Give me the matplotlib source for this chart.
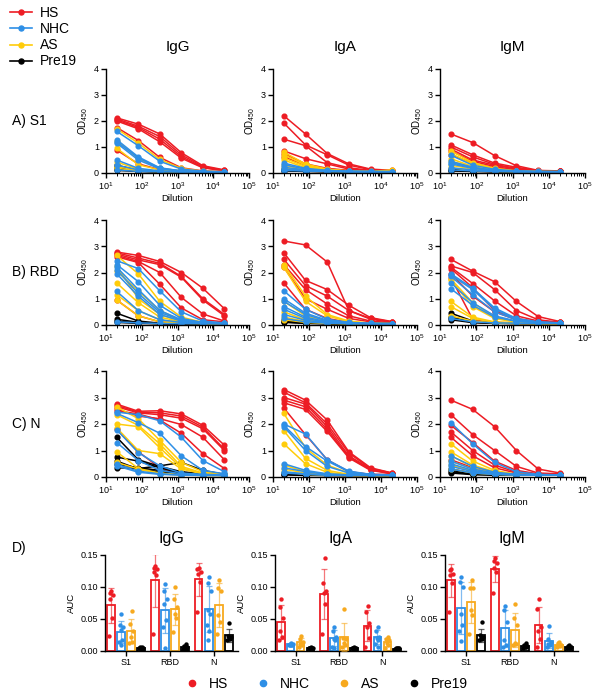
import numpy as np
import matplotlib
matplotlib.use("Agg")
import matplotlib.pyplot as plt
from matplotlib.lines import Line2D
from matplotlib.ticker import LogLocator, NullFormatter, FormatStrFormatter

plt.rcParams['font.family'] = ['Liberation Sans', 'DejaVu Sans']
plt.rcParams['mathtext.fontset'] = 'custom'
plt.rcParams['mathtext.rm'] = 'Liberation Sans'
plt.rcParams['mathtext.it'] = 'Liberation Sans'

# ---------------- data ----------------
dilutions = [20, 80, 320, 1280, 5120, 20480]
groups = ["HS", "NHC", "AS", "Pre19"]
isotypes = ["IgG", "IgA", "IgM"]
antigens = ["S1", "RBD", "N"]
row_labels = ["A) S1", "B) RBD", "C) N"]

# S1 - IgG
s1_igg_hs = [[2.12, 1.88, 1.50, 0.78, 0.28, 0.12], [2.08, 1.80, 1.40, 0.70, 0.25, 0.10],
             [2.04, 1.75, 1.30, 0.63, 0.22, 0.09], [2.00, 1.70, 1.20, 0.57, 0.20, 0.08],
             [1.75, 1.25, 0.60, 0.20, 0.08, 0.05], [0.88, 0.35, 0.13, 0.07, 0.05, 0.04]]
s1_igg_nhc = [[1.60, 1.05, 0.45, 0.15, 0.07, 0.05], [1.28, 0.62, 0.20, 0.08, 0.05, 0.04],
              [1.20, 0.58, 0.18, 0.08, 0.05, 0.04], [1.15, 0.50, 0.16, 0.07, 0.05, 0.04],
              [0.50, 0.18, 0.08, 0.05, 0.04, 0.04], [0.30, 0.12, 0.06, 0.05, 0.04, 0.04],
              [0.12, 0.06, 0.05, 0.04, 0.04, 0.04]]
s1_igg_as = [[1.70, 1.15, 0.52, 0.18, 0.07, 0.05], [1.25, 0.55, 0.18, 0.08, 0.05, 0.04],
             [0.95, 0.32, 0.12, 0.06, 0.05, 0.04], [0.42, 0.15, 0.07, 0.05, 0.04, 0.04],
             [0.25, 0.10, 0.06, 0.05, 0.04, 0.04], [0.18, 0.08, 0.05, 0.04, 0.04, 0.04]]
s1_igg_pre = [[0.30, 0.10, 0.06, 0.05, 0.04, 0.04], [0.22, 0.08, 0.05, 0.04, 0.04, 0.04],
              [0.15, 0.07, 0.05, 0.04, 0.04, 0.04], [0.10, 0.06, 0.04, 0.04, 0.04, 0.04]]

# S1 - IgA
s1_iga_hs = [[2.20, 1.50, 0.75, 0.35, 0.15, 0.10], [1.92, 1.08, 0.70, 0.30, 0.13, 0.09],
             [1.30, 1.05, 0.40, 0.20, 0.10, 0.08], [0.85, 0.55, 0.35, 0.15, 0.09, 0.07],
             [0.75, 0.35, 0.18, 0.10, 0.07, 0.06], [0.62, 0.30, 0.15, 0.09, 0.06, 0.06]]
s1_iga_nhc = [[0.38, 0.18, 0.10, 0.07, 0.06, 0.05], [0.32, 0.15, 0.09, 0.06, 0.05, 0.05],
              [0.22, 0.12, 0.08, 0.06, 0.05, 0.05], [0.15, 0.10, 0.07, 0.05, 0.05, 0.05],
              [0.12, 0.09, 0.06, 0.05, 0.05, 0.05], [0.10, 0.08, 0.06, 0.05, 0.05, 0.05]]
s1_iga_as = [[0.80, 0.35, 0.15, 0.08, 0.06, 0.12], [0.70, 0.30, 0.13, 0.07, 0.05, 0.05],
             [0.58, 0.25, 0.12, 0.07, 0.05, 0.05], [0.50, 0.20, 0.10, 0.06, 0.05, 0.05],
             [0.30, 0.12, 0.07, 0.05, 0.05, 0.05], [0.20, 0.10, 0.06, 0.05, 0.05, 0.05]]
s1_iga_pre = [[0.15, 0.09, 0.06, 0.05, 0.05, 0.05], [0.12, 0.08, 0.06, 0.05, 0.05, 0.05],
              [0.10, 0.07, 0.05, 0.05, 0.05, 0.05], [0.08, 0.06, 0.05, 0.05, 0.05, 0.05]]

# S1 - IgM
s1_igm_hs = [[1.50, 1.17, 0.67, 0.28, 0.10, 0.08], [1.08, 0.70, 0.38, 0.22, 0.09, 0.07],
             [1.00, 0.62, 0.33, 0.18, 0.08, 0.07], [0.92, 0.50, 0.30, 0.15, 0.08, 0.06],
             [0.85, 0.45, 0.25, 0.12, 0.07, 0.06], [0.70, 0.38, 0.20, 0.10, 0.06, 0.06]]
s1_igm_nhc = [[0.68, 0.30, 0.14, 0.08, 0.06, 0.05], [0.45, 0.22, 0.10, 0.07, 0.05, 0.05],
              [0.40, 0.20, 0.10, 0.06, 0.05, 0.05], [0.35, 0.18, 0.09, 0.06, 0.05, 0.05],
              [0.20, 0.12, 0.07, 0.05, 0.05, 0.05], [0.12, 0.08, 0.06, 0.05, 0.05, 0.05]]
s1_igm_as = [[0.85, 0.40, 0.18, 0.08, 0.06, 0.05], [0.75, 0.35, 0.15, 0.07, 0.05, 0.05],
             [0.55, 0.25, 0.12, 0.07, 0.05, 0.05], [0.45, 0.22, 0.10, 0.06, 0.05, 0.05],
             [0.30, 0.15, 0.08, 0.05, 0.05, 0.05], [0.20, 0.10, 0.06, 0.05, 0.05, 0.05]]
s1_igm_pre = [[0.15, 0.09, 0.06, 0.05, 0.05, 0.05], [0.12, 0.08, 0.06, 0.05, 0.05, 0.05],
              [0.10, 0.07, 0.05, 0.05, 0.05, 0.05], [0.08, 0.06, 0.05, 0.05, 0.05, 0.05]]

# RBD - IgG
rbd_igg_hs = [[2.78, 2.65, 2.42, 2.00, 1.40, 0.62], [2.75, 2.55, 2.35, 1.85, 1.00, 0.40],
              [2.70, 2.48, 2.30, 1.82, 0.95, 0.35], [2.65, 2.42, 2.00, 1.05, 0.42, 0.15],
              [2.60, 2.38, 1.55, 0.65, 0.20, 0.12], [0.95, 0.35, 0.12, 0.08, 0.06, 0.05]]
rbd_igg_nhc = [[2.45, 2.15, 1.30, 0.50, 0.15, 0.08], [2.30, 1.65, 0.75, 0.25, 0.10, 0.06],
               [2.20, 1.35, 0.55, 0.20, 0.08, 0.06], [2.10, 1.20, 0.48, 0.18, 0.08, 0.05],
               [1.95, 1.10, 0.40, 0.15, 0.07, 0.05], [1.28, 0.55, 0.20, 0.10, 0.06, 0.05],
               [0.12, 0.08, 0.06, 0.05, 0.05, 0.05]]
rbd_igg_as = [[2.65, 1.95, 0.90, 0.30, 0.10, 0.06], [2.25, 1.00, 0.40, 0.14, 0.07, 0.05],
              [2.05, 1.30, 0.55, 0.18, 0.08, 0.05], [1.60, 0.85, 0.30, 0.12, 0.06, 0.05],
              [1.15, 0.55, 0.20, 0.10, 0.06, 0.05], [0.95, 0.35, 0.12, 0.07, 0.05, 0.05]]
rbd_igg_pre = [[0.45, 0.15, 0.07, 0.05, 0.05, 0.05], [0.22, 0.10, 0.06, 0.05, 0.05, 0.05],
               [0.15, 0.08, 0.05, 0.05, 0.05, 0.05], [0.10, 0.06, 0.05, 0.05, 0.05, 0.05]]

# RBD - IgA
rbd_iga_hs = [[3.20, 3.05, 2.40, 0.55, 0.25, 0.12], [2.75, 1.70, 1.35, 0.75, 0.28, 0.13],
              [2.50, 1.50, 1.10, 0.55, 0.22, 0.10], [2.30, 1.35, 0.80, 0.35, 0.15, 0.08],
              [2.20, 1.00, 0.60, 0.25, 0.12, 0.07], [1.60, 0.60, 0.25, 0.10, 0.06, 0.05]]
rbd_iga_nhc = [[1.30, 0.60, 0.22, 0.10, 0.06, 0.05], [1.00, 0.45, 0.18, 0.08, 0.06, 0.05],
               [0.90, 0.40, 0.15, 0.08, 0.05, 0.05], [0.70, 0.30, 0.12, 0.07, 0.05, 0.05],
               [0.60, 0.25, 0.10, 0.06, 0.05, 0.05], [0.40, 0.18, 0.08, 0.06, 0.05, 0.05],
               [0.25, 0.12, 0.07, 0.05, 0.05, 0.05]]
rbd_iga_as = [[2.30, 1.10, 0.40, 0.15, 0.07, 0.05], [2.20, 0.90, 0.35, 0.12, 0.06, 0.05],
              [0.90, 0.35, 0.14, 0.07, 0.05, 0.05], [0.50, 0.20, 0.10, 0.06, 0.05, 0.05],
              [0.30, 0.14, 0.08, 0.05, 0.05, 0.05], [0.20, 0.10, 0.06, 0.05, 0.05, 0.05]]
rbd_iga_pre = [[0.20, 0.10, 0.06, 0.05, 0.05, 0.05], [0.15, 0.08, 0.06, 0.05, 0.05, 0.05],
               [0.12, 0.07, 0.05, 0.05, 0.05, 0.05], [0.10, 0.06, 0.05, 0.05, 0.05, 0.05]]

# RBD - IgM
rbd_igm_hs = [[2.50, 2.05, 1.65, 0.90, 0.32, 0.13], [2.25, 2.00, 1.35, 0.55, 0.20, 0.10],
              [2.20, 1.58, 0.92, 0.35, 0.15, 0.10], [2.15, 1.42, 0.55, 0.25, 0.12, 0.08],
              [1.95, 1.10, 0.50, 0.20, 0.10, 0.08], [1.80, 0.22, 0.10, 0.08, 0.07, 0.06]]
rbd_igm_nhc = [[1.95, 1.40, 0.65, 0.25, 0.12, 0.08], [1.90, 1.35, 0.60, 0.22, 0.11, 0.08],
               [1.85, 1.15, 0.50, 0.20, 0.10, 0.07], [1.60, 0.85, 0.35, 0.15, 0.09, 0.07],
               [1.38, 0.75, 0.30, 0.14, 0.08, 0.07], [0.25, 0.12, 0.08, 0.07, 0.06, 0.06]]
rbd_igm_as = [[1.75, 0.85, 0.28, 0.12, 0.08, 0.07], [1.70, 0.70, 0.25, 0.10, 0.07, 0.06],
              [0.90, 0.30, 0.12, 0.08, 0.06, 0.06], [0.70, 0.25, 0.10, 0.07, 0.06, 0.06],
              [0.35, 0.15, 0.08, 0.06, 0.06, 0.06]]
rbd_igm_pre = [[0.45, 0.15, 0.08, 0.06, 0.06, 0.06], [0.30, 0.12, 0.07, 0.06, 0.06, 0.06],
               [0.25, 0.10, 0.07, 0.06, 0.06, 0.06], [0.20, 0.09, 0.06, 0.06, 0.06, 0.06]]

# N - IgG
n_igg_hs = [[2.75, 2.48, 2.50, 2.38, 1.95, 1.20], [2.70, 2.45, 2.42, 2.30, 1.88, 1.05],
            [2.65, 2.42, 2.35, 2.22, 1.82, 1.00], [2.55, 2.30, 2.20, 1.98, 1.50, 0.65],
            [2.50, 2.38, 2.15, 1.65, 0.88, 0.32], [1.80, 0.95, 0.35, 0.12, 0.08, 0.06]]
n_igg_nhc = [[2.45, 2.35, 2.12, 1.50, 0.62, 0.20], [2.40, 2.05, 1.65, 0.80, 0.25, 0.12],
             [1.78, 0.92, 0.42, 0.15, 0.10, 0.08], [1.30, 0.62, 0.25, 0.12, 0.08, 0.06],
             [0.48, 0.22, 0.12, 0.08, 0.06, 0.06], [0.42, 0.18, 0.10, 0.07, 0.06, 0.06]]
n_igg_as = [[2.65, 2.20, 1.38, 0.55, 0.20, 0.10], [2.35, 1.95, 1.25, 0.40, 0.15, 0.08],
            [2.00, 1.90, 1.10, 0.35, 0.12, 0.08], [1.85, 1.00, 0.88, 0.30, 0.12, 0.07],
            [0.95, 0.32, 0.15, 0.08, 0.06, 0.06], [0.55, 0.30, 0.12, 0.08, 0.06, 0.06]]
n_igg_pre = [[1.50, 0.65, 0.40, 0.20, 0.12, 0.08], [0.75, 0.60, 0.35, 0.15, 0.10, 0.08],
             [0.35, 0.32, 0.42, 0.55, 0.25, 0.10], [0.60, 0.30, 0.20, 0.12, 0.08, 0.06],
             [0.48, 0.35, 0.25, 0.15, 0.10, 0.06]]

# N - IgA
n_iga_hs = [[3.30, 2.90, 2.15, 0.95, 0.35, 0.15], [3.20, 2.80, 2.00, 0.90, 0.32, 0.15],
            [3.00, 2.75, 1.90, 0.80, 0.30, 0.13], [2.90, 2.65, 1.80, 0.75, 0.28, 0.12],
            [2.80, 2.55, 1.72, 0.72, 0.25, 0.12], [2.60, 1.60, 0.65, 0.20, 0.10, 0.10]]
n_iga_nhc = [[2.00, 1.62, 0.65, 0.22, 0.10, 0.08], [1.95, 1.15, 0.60, 0.20, 0.09, 0.08],
             [1.90, 1.00, 0.40, 0.15, 0.08, 0.07], [0.50, 0.25, 0.12, 0.08, 0.07, 0.07],
             [0.35, 0.20, 0.10, 0.08, 0.07, 0.07], [0.20, 0.12, 0.08, 0.07, 0.06, 0.06],
             [0.15, 0.10, 0.07, 0.06, 0.06, 0.06]]
n_iga_as = [[2.40, 1.10, 0.45, 0.15, 0.08, 0.07], [1.75, 0.70, 0.25, 0.10, 0.07, 0.07],
            [1.25, 0.50, 0.18, 0.08, 0.07, 0.06], [0.45, 0.20, 0.10, 0.07, 0.06, 0.06],
            [0.30, 0.15, 0.08, 0.06, 0.06, 0.06], [0.20, 0.10, 0.07, 0.06, 0.06, 0.06]]
n_iga_pre = [[0.15, 0.09, 0.07, 0.06, 0.06, 0.06], [0.12, 0.08, 0.06, 0.06, 0.06, 0.06],
             [0.10, 0.07, 0.06, 0.06, 0.06, 0.06], [0.08, 0.06, 0.06, 0.06, 0.06, 0.06]]

# N - IgM
n_igm_hs = [[2.90, 2.55, 1.90, 1.00, 0.30, 0.15], [2.35, 1.60, 1.00, 0.40, 0.15, 0.12],
            [1.95, 1.30, 0.60, 0.25, 0.12, 0.10], [1.70, 1.00, 0.45, 0.18, 0.10, 0.10],
            [1.50, 0.80, 0.35, 0.15, 0.10, 0.10], [0.65, 0.35, 0.18, 0.10, 0.08, 0.08]]
n_igm_nhc = [[2.05, 1.25, 0.55, 0.20, 0.10, 0.08], [0.80, 0.40, 0.18, 0.10, 0.08, 0.08],
             [0.60, 0.30, 0.15, 0.10, 0.08, 0.07], [0.50, 0.25, 0.12, 0.09, 0.08, 0.07],
             [0.40, 0.20, 0.10, 0.08, 0.07, 0.07], [0.30, 0.15, 0.10, 0.08, 0.07, 0.07]]
n_igm_as = [[1.25, 0.60, 0.25, 0.10, 0.08, 0.07], [0.95, 0.45, 0.20, 0.10, 0.08, 0.07],
            [0.80, 0.38, 0.16, 0.09, 0.07, 0.07], [0.60, 0.30, 0.14, 0.08, 0.07, 0.07],
            [0.45, 0.22, 0.12, 0.08, 0.07, 0.07], [0.30, 0.15, 0.10, 0.08, 0.07, 0.07]]
n_igm_pre = [[0.30, 0.15, 0.10, 0.08, 0.07, 0.07], [0.25, 0.12, 0.09, 0.07, 0.07, 0.07],
             [0.20, 0.10, 0.08, 0.07, 0.07, 0.07], [0.15, 0.09, 0.07, 0.07, 0.07, 0.07]]

# AUC (panel D), order per group: S1, RBD, N
auc_igg_hs = [[0.094, 0.090, 0.087, 0.081, 0.052, 0.024],
              [0.133, 0.130, 0.128, 0.124, 0.119, 0.027],
              [0.129, 0.128, 0.124, 0.121, 0.108, 0.061]]
auc_igg_nhc = [[0.058, 0.040, 0.038, 0.033, 0.017, 0.014, 0.009],
               [0.105, 0.094, 0.082, 0.074, 0.048, 0.038, 0.004],
               [0.115, 0.106, 0.094, 0.064, 0.058, 0.040, 0.032, 0.017]]
auc_igg_as = [[0.062, 0.042, 0.032, 0.022, 0.014, 0.013],
              [0.100, 0.082, 0.069, 0.058, 0.051, 0.030],
              [0.111, 0.098, 0.094, 0.056, 0.045, 0.027]]
auc_igg_pre = [[0.007, 0.006, 0.005, 0.005, 0.004, 0.004, 0.003],
               [0.011, 0.008, 0.006, 0.005, 0.004, 0.003, 0.002],
               [0.044, 0.023, 0.022, 0.021, 0.019, 0.017]]

auc_iga_hs = [[0.081, 0.068, 0.052, 0.032, 0.022, 0.017],
              [0.146, 0.106, 0.093, 0.090, 0.074, 0.026],
              [0.070, 0.061, 0.043, 0.038, 0.021, 0.006]]
auc_iga_nhc = [[0.012, 0.011, 0.011, 0.010, 0.010, 0.010, 0.009],
               [0.038, 0.032, 0.022, 0.019, 0.017, 0.007, 0.005],
               [0.038, 0.032, 0.022, 0.021, 0.017, 0.011, 0.007]]
auc_iga_as = [[0.024, 0.018, 0.014, 0.011, 0.009, 0.007],
              [0.066, 0.021, 0.019, 0.013, 0.009, 0.006],
              [0.022, 0.019, 0.017, 0.013, 0.009, 0.005]]
auc_iga_pre = [[0.006, 0.005, 0.005, 0.005, 0.004, 0.004],
               [0.006, 0.005, 0.005, 0.004, 0.004, 0.004],
               [0.005, 0.004, 0.004, 0.004, 0.003, 0.003]]

auc_igm_hs = [[0.128, 0.126, 0.121, 0.119, 0.106, 0.061],
              [0.146, 0.140, 0.137, 0.129, 0.124, 0.090],
              [0.081, 0.066, 0.038, 0.032, 0.019, 0.006]]
auc_igm_nhc = [[0.115, 0.108, 0.100, 0.058, 0.040, 0.032, 0.016],
               [0.070, 0.064, 0.045, 0.017, 0.009, 0.006],
               [0.039, 0.019, 0.014, 0.011, 0.009, 0.006]]
auc_igm_as = [[0.111, 0.099, 0.098, 0.064, 0.057, 0.026],
              [0.073, 0.052, 0.040, 0.013, 0.011, 0.009],
              [0.014, 0.012, 0.010, 0.009, 0.008, 0.007]]
auc_igm_pre = [[0.045, 0.025, 0.022, 0.021, 0.019, 0.017],
               [0.012, 0.010, 0.008, 0.007, 0.006, 0.005],
               [0.010, 0.008, 0.007, 0.006, 0.005, 0.005]]

# ---------------- styling ----------------
line_colors = {"HS": "#ED1C24", "NHC": "#2E8FE6", "AS": "#FFCC0A", "Pre19": "#000000"}
bar_colors = {"HS": "#ED1C24", "NHC": "#2E8FE6", "AS": "#F7A91E", "Pre19": "#000000"}

curves = {
    ("S1", "IgG"): [s1_igg_hs, s1_igg_nhc, s1_igg_as, s1_igg_pre],
    ("S1", "IgA"): [s1_iga_hs, s1_iga_nhc, s1_iga_as, s1_iga_pre],
    ("S1", "IgM"): [s1_igm_hs, s1_igm_nhc, s1_igm_as, s1_igm_pre],
    ("RBD", "IgG"): [rbd_igg_hs, rbd_igg_nhc, rbd_igg_as, rbd_igg_pre],
    ("RBD", "IgA"): [rbd_iga_hs, rbd_iga_nhc, rbd_iga_as, rbd_iga_pre],
    ("RBD", "IgM"): [rbd_igm_hs, rbd_igm_nhc, rbd_igm_as, rbd_igm_pre],
    ("N", "IgG"): [n_igg_hs, n_igg_nhc, n_igg_as, n_igg_pre],
    ("N", "IgA"): [n_iga_hs, n_iga_nhc, n_iga_as, n_iga_pre],
    ("N", "IgM"): [n_igm_hs, n_igm_nhc, n_igm_as, n_igm_pre],
}
aucs = {
    "IgG": [auc_igg_hs, auc_igg_nhc, auc_igg_as, auc_igg_pre],
    "IgA": [auc_iga_hs, auc_iga_nhc, auc_iga_as, auc_iga_pre],
    "IgM": [auc_igm_hs, auc_igm_nhc, auc_igm_as, auc_igm_pre],
}

W, H = 604, 700
fig = plt.figure(figsize=(W / 100, H / 100), dpi=100)

def fbox(x0, y0, x1, y1):
    return [x0 / W, 1 - y1 / H, (x1 - x0) / W, (y1 - y0) / H]

col_x = [(106, 249), (273, 417), (440, 585)]
row_y = [(69, 173), (220, 325), (371, 477)]

def style_axes(ax):
    for s in ["top", "right"]:
        ax.spines[s].set_visible(False)
    for s in ["left", "bottom"]:
        ax.spines[s].set_linewidth(1.0)
    ax.tick_params(axis="both", which="major", length=3.5, width=1.0, labelsize=6.5, pad=1.5)
    ax.tick_params(axis="both", which="minor", length=2, width=0.7)

plot_order = [0, 3, 2, 1]  # HS, Pre19, AS, NHC
for r, ag in enumerate(antigens):
    for c, iso in enumerate(isotypes):
        ax = fig.add_axes(fbox(col_x[c][0], row_y[r][0], col_x[c][1], row_y[r][1]))
        data = curves[(ag, iso)]
        for gi in plot_order:
            g = groups[gi]
            for series in data[gi]:
                ax.plot(dilutions, series, color=line_colors[g], lw=1.1,
                        marker="o", ms=3.4, mec=line_colors[g], mfc=line_colors[g], zorder=2)
        ax.set_xscale("log")
        ax.set_xlim(10, 1e5)
        ax.set_ylim(0, 4)
        ax.set_yticks([0, 1, 2, 3, 4])
        ax.xaxis.set_major_locator(LogLocator(base=10, numticks=10))
        ax.xaxis.set_minor_locator(LogLocator(base=10, subs=np.arange(2, 10), numticks=20))
        ax.xaxis.set_minor_formatter(NullFormatter())
        style_axes(ax)
        ax.set_xlabel("Dilution", fontsize=6.8, labelpad=2)
        ax.set_ylabel("OD$_{450}$", fontsize=7, labelpad=3)
        ax.margins(0)
        if r == 0:
            ax.set_title(iso, fontsize=11, pad=13)
    fig.text(12 / W, 1 - (row_y[r][0] + row_y[r][1]) / 2 / H, row_labels[r],
             fontsize=10, ha="left", va="center")

# ---------------- panel D ----------------
bar_x = [(105, 238), (275, 406), (445, 578)]
bw = 0.17
step = 0.23
for c, iso in enumerate(isotypes):
    ax = fig.add_axes(fbox(bar_x[c][0], 555, bar_x[c][1], 651))
    for gi, g in enumerate(groups):
        for ai in range(3):
            vals = np.array(aucs[iso][gi][ai])
            xc = ai + (gi - 1.5) * step
            m = vals.mean()
            sd = vals.std(ddof=1)
            ax.bar(xc, m, width=bw, facecolor="white", edgecolor=bar_colors[g],
                   linewidth=1.3, zorder=2)
            ax.errorbar(xc, m, yerr=[[min(sd, m)], [sd]], color=bar_colors[g], lw=0.9,
                        capsize=2, capthick=0.9, zorder=3, alpha=0.6)
            n = len(vals)
            offs = np.array([(-1) ** k * 0.035 * ((k % 3) / 2 + 0.3) for k in range(n)])
            ax.scatter(xc + offs, vals, s=10, color=bar_colors[g], zorder=4, linewidths=0)
    ax.set_xlim(-0.48, 2.55)
    ax.set_ylim(0, 0.15)
    ax.set_yticks([0, 0.05, 0.10, 0.15])
    ax.yaxis.set_major_formatter(FormatStrFormatter("%.2f"))
    ax.set_xticks([0, 1, 2])
    ax.set_xticklabels(antigens)
    style_axes(ax)
    ax.set_ylabel("AUC", fontsize=6.8, labelpad=3)
    ax.set_title(iso, fontsize=11.5, pad=9)

fig.text(12 / W, 1 - 548 / H, "D)", fontsize=10, ha="left", va="center")

# top-left legend
handles_top = [Line2D([0], [0], color=line_colors[g], lw=1.2, marker="o", ms=3.6) for g in groups]
fig.legend(handles_top, groups, loc="upper left", bbox_to_anchor=(0.0, 1.005), frameon=False,
           fontsize=10, handlelength=1.6, handletextpad=0.6, labelspacing=0.15, borderaxespad=0.3)

# bottom legend
handles_bot = [Line2D([0], [0], color=bar_colors[g], lw=0, marker="o", ms=4.5) for g in groups]
fig.legend(handles_bot, groups, loc="center", bbox_to_anchor=(0.541, 1 - 684 / H), ncol=4,
           frameon=False, fontsize=10, handlelength=1.0, handletextpad=0.7, columnspacing=2.0)

fig.savefig("out.png", dpi=100)
